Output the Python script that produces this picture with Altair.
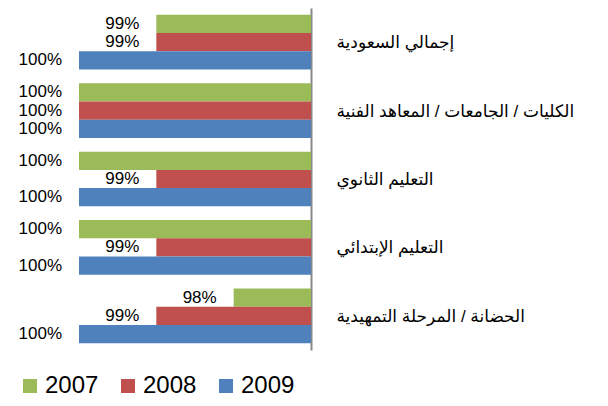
import altair as alt
import pandas as pd

categories = [
    "إجمالي السعودية",
    "الكليات / الجامعات / المعاهد الفنية",
    "التعليم الثانوي",
    "التعليم الإبتدائي",
    "الحضانة / المرحلة التمهيدية",
]
years = ["2007", "2008", "2009"]
values_2007 = [99, 100, 100, 100, 98]
values_2008 = [99, 100, 99, 99, 99]
values_2009 = [100, 100, 100, 100, 100]
colors = ["#9BBB59", "#C0504D", "#4F81BD"]

rows = []
for yr, vals in zip(years, [values_2007, values_2008, values_2009]):
    for c, v in zip(categories, vals):
        rows.append({"category": c, "year": yr, "value": v, "label": f"{v}%"})
df = pd.DataFrame(rows)

font = "Liberation Sans, Arial, DejaVu Sans"

x_scale = alt.Scale(domain=[97, 100], reverse=True, zero=False, nice=False)
y_enc = alt.Y(
    "category:N",
    sort=categories,
    scale=alt.Scale(paddingInner=0.2, paddingOuter=0.1),
    axis=alt.Axis(
        orient="right",
        title=None,
        ticks=False,
        domainColor="#898989",
        domainWidth=2,
        labelPadding=25,
        labelAlign="left",
        labelBaseline="middle",
        labelOffset=1,
        labelFontSize=17,
        labelFont=font,
        labelColor="#000000",
        labelLimit=0,
        grid=False,
    ),
)

base = alt.Chart(df)

bars = base.mark_bar().encode(
    x=alt.X("value:Q", scale=x_scale, axis=None),
    x2=alt.datum(97),
    y=y_enc,
    yOffset=alt.YOffset("year:N", sort=years),
    color=alt.Color(
        "year:N",
        scale=alt.Scale(domain=years, range=colors),
        legend=alt.Legend(
            title=None,
            orient="none",
            legendX=-61,
            legendY=366,
            direction="horizontal",
            symbolType="square",
            symbolSize=196,
            symbolStrokeWidth=0,
            symbolOpacity=1,
            labelFontSize=24,
            labelFont=font,
            labelColor="#000000",
            labelOffset=3,
            columnPadding=17,
            padding=0,
        ),
    ),
)

labels = base.mark_text(
    align="right", baseline="middle", dx=-17, fontSize=17, font=font, color="#000000"
).encode(
    x=alt.X("value:Q", scale=x_scale, axis=None),
    y=alt.Y("category:N", sort=categories),
    yOffset=alt.YOffset("year:N", sort=years),
    text="label:N",
)

chart = (
    alt.layer(bars, labels)
    .properties(
        width=232,
        height=342,
        padding={"left": 71, "top": 0, "right": 289, "bottom": 48},
        autosize=alt.AutoSizeParams(type="none"),
    )
    .configure_view(stroke=None)
)

chart.save("out.html", embed_options={"renderer": "svg", "actions": False})
